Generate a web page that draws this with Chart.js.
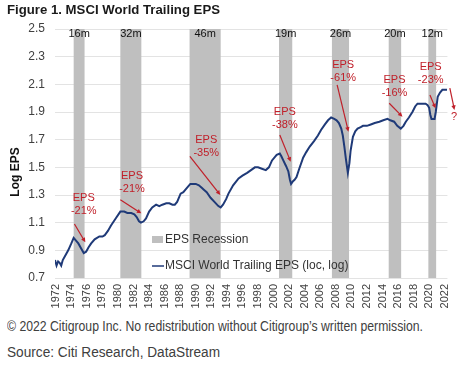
<!DOCTYPE html>
<html>
<head>
<meta charset="utf-8">
<script src="https://cdn.jsdelivr.net/npm/chart.js@4"></script>
<style>
  body { margin: 0; background: #fff; }
  #wrap { position: relative; width: 464px; height: 369px; background: #fff; overflow: hidden; }
  #chart { position: absolute; left: 0; top: 0; }
  .txt { position: absolute; left: 7px; white-space: nowrap; font-family: "Liberation Sans", Arial, sans-serif; transform-origin: 0 50%; }
  #title { top: 2px; font-size: 13px; font-weight: bold; line-height: 16px; color: #1a1a1a; }
  #copy { top: 318px; font-size: 14px; line-height: 16px; color: #404040; }
  #source { top: 344px; font-size: 14px; line-height: 16px; color: #404040; }
</style>
</head>
<body>
<div id="wrap">
  <canvas id="chart" width="464" height="318"></canvas>
  <div id="title" class="txt" data-w="213">Figure 1. MSCI World Trailing EPS</div>
  <div id="copy" class="txt" data-w="416">© 2022 Citigroup Inc. No redistribution without Citigroup’s written permission.</div>
  <div id="source" class="txt" data-w="213">Source: Citi Research, DataStream</div>
</div>
<script>
// Datos de la serie (año decimal, log EPS)
const epsYears = [1971.9, 1972.1, 1972.3, 1972.5, 1972.7, 1972.9, 1973.3, 1973.6, 1974.0, 1974.3, 1974.6, 1974.9, 1975.3, 1975.6, 1975.9,
  1976.2, 1976.55, 1977.0, 1977.6, 1978.0, 1978.3, 1978.7, 1979.1, 1979.7, 1980.3, 1980.8, 1981.2, 1981.7, 1982.1, 1982.4, 1982.7, 1982.95,
  1983.3, 1983.6, 1984.0, 1984.4, 1984.9, 1985.3, 1985.7, 1986.2, 1986.6, 1987.0, 1987.3, 1987.6, 1988.05, 1988.4, 1988.7, 1989.0, 1989.3,
  1989.7, 1990.0, 1990.4, 1990.8, 1991.0, 1991.4, 1991.9, 1992.4, 1992.9, 1993.2, 1993.5, 1993.9, 1994.2, 1994.8, 1995.5, 1996.0, 1996.6,
  1997.1, 1997.6, 1998.0, 1998.5, 1999.0, 1999.4, 1999.8, 2000.4, 2000.8, 2001.0, 2001.25, 2001.6, 2001.9, 2002.1, 2002.25, 2002.5, 2002.7,
  2002.95, 2003.3, 2003.8, 2004.2, 2004.65, 2005.2, 2005.7, 2006.1, 2006.6, 2007.0, 2007.4, 2007.8, 2008.1, 2008.4, 2008.7, 2008.9, 2009.1,
  2009.3, 2009.55, 2009.75, 2009.9, 2010.2, 2010.5, 2010.8, 2011.2, 2011.5, 2012.0, 2012.5, 2013.0, 2013.6, 2014.1, 2014.65, 2015.0, 2015.5,
  2015.9, 2016.35, 2016.7, 2017.0, 2017.4, 2017.85, 2018.2, 2018.5, 2019.0, 2019.55, 2019.8, 2020.0, 2020.15, 2020.3, 2020.7, 2020.85,
  2021.1, 2021.4, 2021.7, 2022.0, 2022.3];
const epsValues = [0.83, 0.79, 0.82, 0.81, 0.79, 0.83, 0.87, 0.90, 0.95, 0.99, 0.97, 0.95, 0.91, 0.88, 0.89,
  0.92, 0.95, 0.98, 1.00, 1.00, 1.01, 1.04, 1.08, 1.13, 1.18, 1.18, 1.17, 1.17, 1.16, 1.14, 1.11, 1.10,
  1.11, 1.13, 1.18, 1.21, 1.23, 1.22, 1.23, 1.24, 1.24, 1.23, 1.23, 1.25, 1.31, 1.32, 1.34, 1.36, 1.38,
  1.38, 1.38, 1.37, 1.35, 1.34, 1.32, 1.28, 1.25, 1.22, 1.21, 1.23, 1.27, 1.31, 1.37, 1.42, 1.44, 1.46,
  1.48, 1.50, 1.50, 1.49, 1.48, 1.50, 1.55, 1.59, 1.60, 1.58, 1.55, 1.51, 1.47, 1.41, 1.38, 1.40, 1.41,
  1.43, 1.49, 1.57, 1.61, 1.65, 1.69, 1.73, 1.77, 1.81, 1.84, 1.86, 1.85, 1.84, 1.82, 1.78, 1.73, 1.65,
  1.56, 1.46, 1.53, 1.62, 1.72, 1.76, 1.78, 1.79, 1.80, 1.80, 1.81, 1.82, 1.83, 1.84, 1.85, 1.84, 1.83,
  1.80, 1.78, 1.80, 1.83, 1.86, 1.90, 1.94, 1.96, 1.96, 1.96, 1.95, 1.93, 1.88, 1.85, 1.85, 1.90,
  2.01, 2.04, 2.06, 2.06, 2.06];

// Recesiones de EPS
const recStart = [1974.3, 1980.3, 1989.2, 2000.7, 2007.5, 2014.8, 2019.9];
const recEnd = [1975.7, 1983.0, 1993.2, 2002.4, 2009.7, 2016.4, 2020.9];
const recLabels = ['16m', '32m', '46m', '19m', '26m', '20m', '12m'];

// Anotaciones (texto y flechas en coordenadas de datos)
const noteText = [['EPS', '-21%'], ['EPS', '-21%'], ['EPS', '-35%'], ['EPS', '-38%'], ['EPS', '-61%'], ['EPS', '-16%'], ['EPS', '-23%'], ['?']];
const noteYear = [1975.6, 1981.8, 1991.35, 2001.45, 2008.95, 2015.55, 2020.2, 2023.2];
const noteValue = [1.278, 1.438, 1.698, 1.903, 2.24, 2.132, 2.228, 1.866];
const arrowFrom = [[1974.4, 1.09], [1980.3, 1.266], [1989.24, 1.58], [2000.8, 1.734], [2008.17, 2.096], [2014.87, 1.963], [2020.1, 2.023], [2022.66, 2.072]];
const arrowTo = [[1975.8, 0.958], [1983.0, 1.168], [1993.15, 1.30], [2002.2, 1.541], [2009.62, 1.758], [2016.57, 1.866], [2020.82, 1.927], [2023.25, 1.915]];

const tickYears = [1972, 1974, 1976, 1978, 1980, 1982, 1984, 1986, 1988, 1990, 1992, 1994, 1996, 1998,
  2000, 2002, 2004, 2006, 2008, 2010, 2012, 2014, 2016, 2018, 2020, 2022];
const tickValues = [0.7, 0.9, 1.1, 1.3, 1.5, 1.7, 1.9, 2.1, 2.3, 2.5];

const FONT = '"Liberation Sans", Arial, sans-serif';
const RED = '#c0202a';
const NAVY = '#1f3a78';
const GREY_BAND = '#bfbfbf';

function drawArrow(ctx, x1, y1, x2, y2) {
    const ang = Math.atan2(y2 - y1, x2 - x1);
    const len = 5;
    ctx.beginPath();
    ctx.moveTo(x1, y1);
    ctx.lineTo(x2 - Math.cos(ang) * 3, y2 - Math.sin(ang) * 3);
    ctx.stroke();
    ctx.beginPath();
    ctx.moveTo(x2, y2);
    ctx.lineTo(x2 - len * Math.cos(ang - 0.45), y2 - len * Math.sin(ang - 0.45));
    ctx.lineTo(x2 - len * Math.cos(ang + 0.45), y2 - len * Math.sin(ang + 0.45));
    ctx.closePath();
    ctx.fill();
}

// Barras de recesión (debajo de la línea)
const bandsPlugin = {
    id: 'bands',
    beforeDatasetsDraw(chart) {
        const { ctx, chartArea, scales: { x } } = chart;
        ctx.save();
        ctx.fillStyle = GREY_BAND;
        recStart.forEach((s, i) => {
            const x1 = x.getPixelForValue(s);
            const x2 = x.getPixelForValue(recEnd[i]);
            ctx.fillRect(x1, chartArea.top, x2 - x1, chartArea.bottom - chartArea.top);
        });
        ctx.fillStyle = '#111';
        ctx.font = '11px ' + FONT;
        ctx.textAlign = 'center';
        ctx.textBaseline = 'middle';
        recStart.forEach((s, i) => {
            const xc = (x.getPixelForValue(s) + x.getPixelForValue(recEnd[i])) / 2;
            ctx.fillText(recLabels[i], xc, chartArea.top + 5);
        });
        ctx.restore();
    }
};

// Anotaciones, leyenda y título del eje
const notesPlugin = {
    id: 'notes',
    afterDatasetsDraw(chart) {
        const { ctx, chartArea, scales: { x, y } } = chart;
        ctx.save();
        ctx.fillStyle = RED;
        ctx.strokeStyle = RED;
        ctx.lineWidth = 1.2;
        ctx.font = '11px ' + FONT;
        ctx.textAlign = 'center';
        ctx.textBaseline = 'middle';
        noteText.forEach((lines, i) => {
            const px = x.getPixelForValue(noteYear[i]);
            const py = y.getPixelForValue(noteValue[i]);
            lines.forEach((t, j) => ctx.fillText(t, px, py + j * 13));
            drawArrow(ctx, x.getPixelForValue(arrowFrom[i][0]), y.getPixelForValue(arrowFrom[i][1]),
                x.getPixelForValue(arrowTo[i][0]), y.getPixelForValue(arrowTo[i][1]));
        });

        // leyenda dentro del área del gráfico
        const lx = chartArea.left + 97;
        ctx.textAlign = 'left';
        ctx.font = '12px ' + FONT;
        ctx.fillStyle = GREY_BAND;
        ctx.fillRect(lx, 236, 11, 7);
        ctx.fillStyle = '#333';
        ctx.fillText('EPS Recession', lx + 13, 239.5);
        ctx.strokeStyle = NAVY;
        ctx.lineWidth = 1.5;
        ctx.beginPath();
        ctx.moveTo(lx, 266);
        ctx.lineTo(lx + 12, 266);
        ctx.stroke();
        ctx.fillText('MSCI World Trailing EPS (loc, log)', lx + 13, 266);

        // título del eje Y
        ctx.translate(16, 172);
        ctx.rotate(-Math.PI / 2);
        ctx.textAlign = 'center';
        ctx.font = 'bold 12px ' + FONT;
        ctx.fillStyle = '#111';
        ctx.fillText('Log EPS', 0, 0);
        ctx.restore();
    }
};

const ctx = document.getElementById('chart').getContext('2d');
const chart = new Chart(ctx, {
    type: 'line',
    data: {
        datasets: [{
            label: 'MSCI World Trailing EPS (loc, log)',
            data: epsYears.map((yr, i) => ({ x: yr, y: epsValues[i] })),
            borderColor: NAVY,
            borderWidth: 2,
            pointRadius: 0,
            tension: 0,
            fill: false
        }]
    },
    options: {
        responsive: false,
        animation: false,
        devicePixelRatio: 1,
        layout: { padding: { left: 0, top: 29, right: 14, bottom: 0 } },
        plugins: {
            legend: { display: false },
            tooltip: { enabled: false }
        },
        scales: {
            x: {
                type: 'linear',
                min: 1971.9,
                max: 2022.35,
                afterFit: s => { s.height = 40; },
                afterBuildTicks: s => { s.ticks = tickYears.map(v => ({ value: v })); },
                grid: { display: false, drawTicks: false },
                border: { display: false },
                ticks: {
                    minRotation: 90,
                    maxRotation: 90,
                    padding: 6,
                    autoSkip: false,
                    color: '#404040',
                    font: { family: FONT, size: 11 },
                    callback: v => String(v)
                }
            },
            y: {
                min: 0.7,
                max: 2.5,
                afterFit: s => { s.width = 55; },
                afterBuildTicks: s => { s.ticks = tickValues.map(v => ({ value: v })); },
                grid: { color: '#e3e3e3', drawTicks: false },
                border: { display: false },
                ticks: {
                    padding: 10,
                    color: '#404040',
                    font: { family: FONT, size: 12 },
                    callback: v => v.toFixed(1)
                }
            }
        }
    },
    plugins: [bandsPlugin, notesPlugin]
});

// ajustar el ancho de los textos al original
document.querySelectorAll('.txt[data-w]').forEach(el => {
    const w = el.getBoundingClientRect().width;
    el.style.transform = 'scaleX(' + (Number(el.dataset.w) / w) + ')';
});
</script>
</body>
</html>
